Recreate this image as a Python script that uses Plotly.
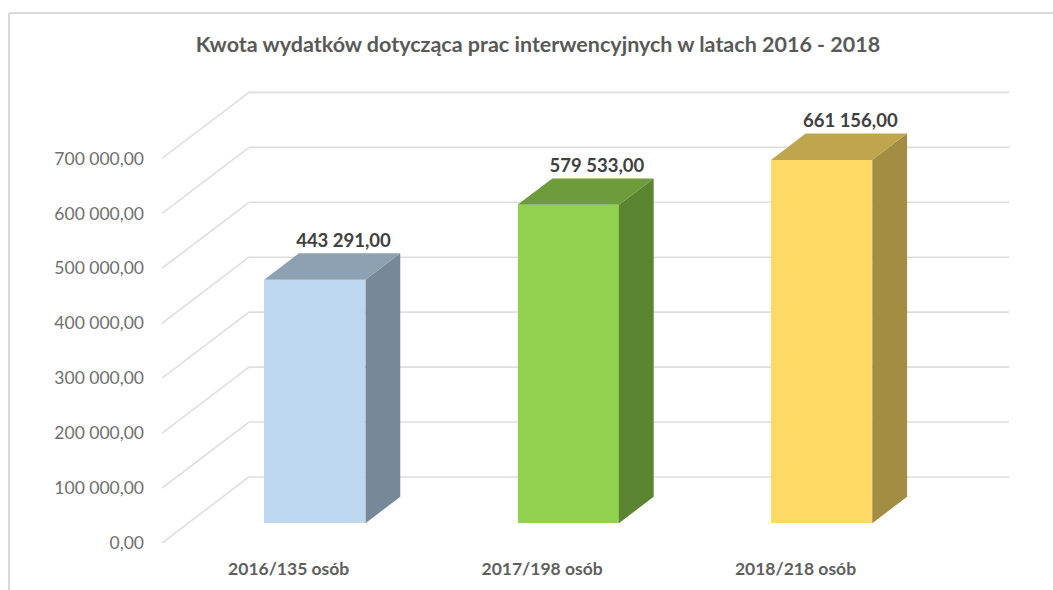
import plotly.graph_objects as go

TITLE = "Kwota wydatków dotycząca prac interwencyjnych w latach 2016 - 2018"
categories = ["2016/135 osób", "2017/198 osób", "2018/218 osób"]
values = [443291, 579533, 661156]
y_ticks = [0, 100000, 200000, 300000, 400000, 500000, 600000, 700000]
front_colors = ["#BDD7EE", "#92D050", "#FFD966"]
top_colors = ["#8EA1B3", "#6E9C3C", "#BFA54D"]
side_colors = ["#778899", "#5B8430", "#A38D42"]

# Oblique projection of Excel's 3-D box: one unit of depth in axis units
DEPTH_X = 0.3433
DEPTH_Y = 120200
BAR_FRONT = 0.3
BAR_BACK = 0.7
BAR_HALF = 0.2
WALL_LEFT = -0.5
WALL_RIGHT = 2.5
GRID = "#DEDEDE"
TEXT = "#636363"
FONT = "Lato"


def fmt(v):
    return f"{v:,.2f}".replace(",", " ").replace(".", ",")


def proj(u, v, d):
    return u + d * DEPTH_X, v + d * DEPTH_Y


shapes = []
for t in y_ticks:
    x0, y0 = proj(WALL_LEFT, t, 0)
    x1, y1 = proj(WALL_LEFT, t, 1)
    x2, y2 = proj(WALL_RIGHT, t, 1)
    for a, b, c, d in [(x0, y0, x1, y1), (x1, y1, x2, y2)]:
        shapes.append(dict(type="line", xref="x", yref="y", x0=a, y0=b, x1=c, y1=d,
                           layer="below", line=dict(color=GRID, width=1.6)))

# chart frame (top and left edges)
FX = (9 - 162) / 848
FY = (590 - 13 - 47.3) / (590 - 80 - 47.3)
shapes.append(dict(type="line", xref="paper", yref="paper", x0=FX, x1=(1053 - 162) / 848, y0=FY, y1=FY,
                   line=dict(color="#D9D9D9", width=2)))
shapes.append(dict(type="line", xref="paper", yref="paper", x0=FX, x1=FX, y0=FY, y1=-47.3 / 462.7,
                   line=dict(color="#D9D9D9", width=2)))

fig = go.Figure()
for i, v in enumerate(values):
    cx, base = proj(i, 0, BAR_FRONT)
    fig.add_trace(go.Bar(x=[cx], y=[v], base=[base], width=[2 * BAR_HALF],
                         marker=dict(color=front_colors[i], line=dict(width=0)),
                         hoverinfo="skip", showlegend=False))
    # side face
    pts = [proj(i + BAR_HALF, 0, BAR_FRONT), proj(i + BAR_HALF, 0, BAR_BACK),
           proj(i + BAR_HALF, v, BAR_BACK), proj(i + BAR_HALF, v, BAR_FRONT)]
    fig.add_trace(go.Scatter(x=[p[0] for p in pts], y=[p[1] for p in pts], fill="toself", mode="lines",
                             fillcolor=side_colors[i], line=dict(width=0), hoverinfo="skip", showlegend=False))
    # top face
    pts = [proj(i - BAR_HALF, v, BAR_FRONT), proj(i + BAR_HALF, v, BAR_FRONT),
           proj(i + BAR_HALF, v, BAR_BACK), proj(i - BAR_HALF, v, BAR_BACK)]
    fig.add_trace(go.Scatter(x=[p[0] for p in pts], y=[p[1] for p in pts], fill="toself", mode="lines",
                             fillcolor=top_colors[i], line=dict(width=0), hoverinfo="skip", showlegend=False))

fig.add_trace(go.Scatter(
    x=[i + 0.63 * DEPTH_X for i in range(len(values))],
    y=[v + BAR_BACK * DEPTH_Y + 3000 for v in values],
    text=[fmt(v) for v in values], mode="text", textposition="top center",
    textfont=dict(family=FONT, size=18.5, color="#404040", weight="bold"),
    hoverinfo="skip", showlegend=False))

fig.update_layout(
    width=1053, height=590, autosize=False,
    margin=dict(l=162, r=43, t=80, b=47.3, pad=0),
    paper_bgcolor="white", plot_bgcolor="white",
    font=dict(family=FONT, color=TEXT),
    title=dict(text=f"<b>{TITLE}</b>", x=538 / 1053, xanchor="center", xref="container",
               y=1 - 44.5 / 590, yanchor="middle", yref="container",
               font=dict(family=FONT, size=21.5, color="#595959")),
    bargap=0, showlegend=False, shapes=shapes,
    xaxis=dict(range=[WALL_LEFT, 2.8465], showgrid=False, zeroline=False, showline=False, ticks="",
               tickmode="array", tickvals=list(range(len(categories))), ticktext=[f"<b>{c}</b>" for c in categories],
               tickfont=dict(family=FONT, size=17.5, color="#5F5F5F"), ticklabelstandoff=13, tickangle=0),
    yaxis=dict(range=[0, 842800], showgrid=False, zeroline=False, showline=False, ticks="",
               tickmode="array", tickvals=y_ticks, ticktext=[fmt(t) for t in y_ticks],
               tickfont=dict(family=FONT, size=17.5, color="#6F6F6F"), ticklabelstandoff=17),
)

fig.write_html("out.html", config=dict(displayModeBar=False), post_script="document.body.style.margin='0';")
